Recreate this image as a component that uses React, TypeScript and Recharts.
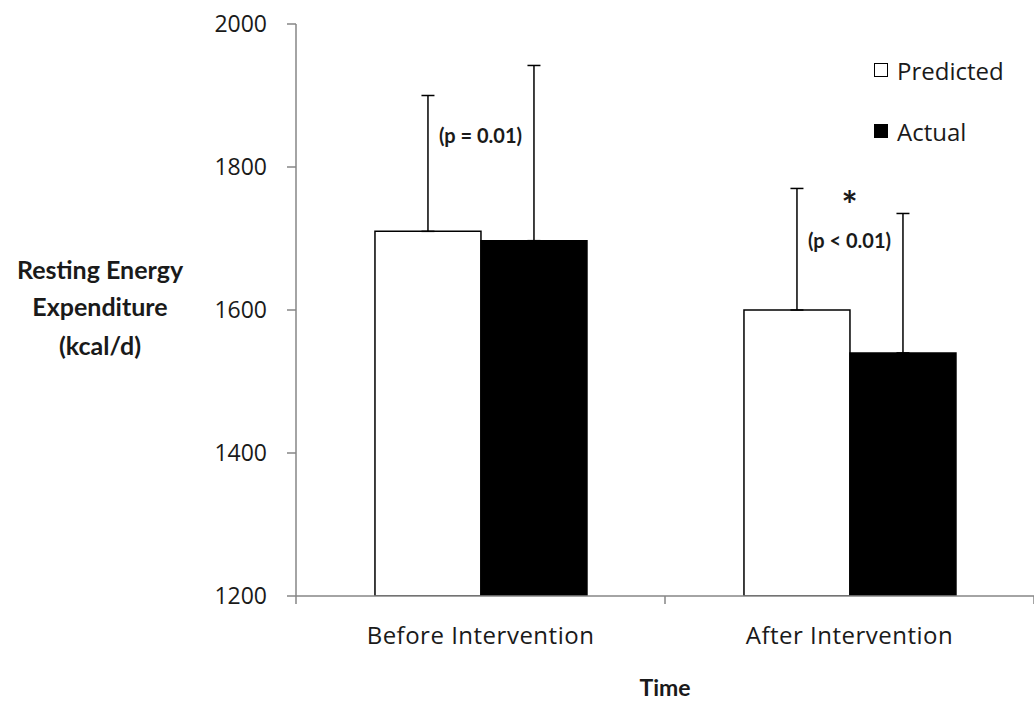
import { BarChart, Bar, XAxis, YAxis, ErrorBar, Label, ReferenceDot } from 'recharts'

const categories = ['Before Intervention', 'After Intervention']
const predicted = [1710, 1600]
const predictedErr = [190, 170]
const actual = [1697, 1540]
const actualErr = [245, 195]
const yTicks = [1200, 1400, 1600, 1800, 2000]

// significance notes drawn above each group
const notes = [
  { category: 'Before Intervention', y: 1841, text: '(p = 0.01)', size: 20 },
  { category: 'After Intervention', y: 1741, text: '*', size: 38 },
  { category: 'After Intervention', y: 1694, text: '(p < 0.01)', size: 20 },
]

const data = categories.map((name, i) => ({
  name,
  predicted: predicted[i],
  predictedErr: [0, predictedErr[i]],
  actual: actual[i],
  actualErr: [0, actualErr[i]],
}))

const FONT = '"Open Sans", Lato, sans-serif'
const BOLD_FONT = 'Lato, "Open Sans", sans-serif'
const AXIS_GRAY = '#868686'
const TEXT = '#1a1a1a'

function CategoryTick(props: any) {
  const { x, y, payload, index, visibleTicksCount } = props
  const half = payload?.offset ?? 0
  const marks = [x - half]
  if (index === visibleTicksCount - 1) marks.push(x + half)
  return (
    <g>
      {half > 0 &&
        marks.map((mx) => (
          <line key={mx} x1={mx} x2={mx} y1={y} y2={y + 8} stroke={AXIS_GRAY} strokeWidth={1.5} />
        ))}
      <text
        x={x}
        y={y + 42}
        textAnchor="middle"
        dominantBaseline="middle"
        fontSize={24}
        letterSpacing={0.5}
        fill={TEXT}
        fontFamily={FONT}
      >
        {payload.value}
      </text>
    </g>
  )
}

function YTitle(props: any) {
  const vb = props.viewBox || { x: 0, y: 0, width: 0, height: 0 }
  const cx = vb.x + 100
  const cy = 310
  return (
    <text x={cx} textAnchor="middle" fontSize={25} fontWeight="bold" fill={TEXT} fontFamily={BOLD_FONT}>
      <tspan x={cx} y={cy - 37} dominantBaseline="middle">Resting Energy</tspan>
      <tspan x={cx} y={cy} dominantBaseline="middle">Expenditure</tspan>
      <tspan x={cx} y={cy + 39} dominantBaseline="middle">(kcal/d)</tspan>
    </text>
  )
}

const legendItems = [
  { label: 'Predicted', fill: '#fff' },
  { label: 'Actual', fill: '#000' },
]

function LegendBox() {
  return (
    <div
      style={{
        position: 'absolute',
        left: 874,
        top: 54,
        fontFamily: FONT,
        fontSize: 24,
        color: TEXT,
      }}
    >
      {legendItems.map((it) => (
        <div key={it.label} style={{ display: 'flex', alignItems: 'center', height: 32, marginBottom: 29 }}>
          <span
            style={{
              width: 12,
              height: 12,
              background: it.fill,
              border: '1.5px solid #000',
              marginRight: 9,
              display: 'inline-block',
            }}
          />
          {it.label}
        </div>
      ))}
    </div>
  )
}

export default function App() {
  return (
    <div style={{ position: 'absolute', left: 0, top: 0, width: 1034, height: 707 }}>
      <BarChart
        width={1034}
        height={707}
        data={data}
        margin={{ top: 24, right: 0, bottom: 0, left: 0 }}
        barCategoryGap="21.4%"
        barGap={0}
      >
        <XAxis
          dataKey="name"
          height={111}
          stroke={AXIS_GRAY}
          strokeWidth={1.5}
          tickLine={false}
          tickSize={0}
          tickMargin={0}
          tick={<CategoryTick />}
          interval={0}
        >
          <Label
            content={({ viewBox }: any) => (
              <text
                x={viewBox.x + viewBox.width / 2}
                y={viewBox.y + 94}
                textAnchor="middle"
                dominantBaseline="middle"
                fontSize={23}
                fontWeight="bold"
                fill={TEXT}
                fontFamily={BOLD_FONT}
              >
                Time
              </text>
            )}
          />
        </XAxis>
        <YAxis
          width={296}
          domain={[1200, 2000]}
          ticks={yTicks}
          allowDataOverflow
          stroke={AXIS_GRAY}
          strokeWidth={1.5}
          tickSize={9}
          tickMargin={20}
          tick={{ fontSize: 23, fill: TEXT, fontFamily: FONT }}
        >
          <Label content={<YTitle />} />
        </YAxis>
        <Bar dataKey="predicted" fill="#fff" stroke="#000" strokeWidth={1.5} isAnimationActive={false}>
          <ErrorBar dataKey="predictedErr" direction="y" width={6.5} stroke="#000" strokeWidth={1.5} />
        </Bar>
        <Bar dataKey="actual" fill="#000" stroke="#000" strokeWidth={1.5} isAnimationActive={false}>
          <ErrorBar dataKey="actualErr" direction="y" width={6.5} stroke="#000" strokeWidth={1.5} />
        </Bar>
        {notes.map((n) => (
          <ReferenceDot
            key={n.text}
            x={n.category}
            y={n.y}
            r={0}
            fill="none"
            stroke="none"
            label={(p: any) => (
              <text
                x={p.viewBox.x + (p.viewBox.width || 0) / 2}
                y={p.viewBox.y + (p.viewBox.height || 0) / 2}
                textAnchor="middle"
                dominantBaseline="middle"
                fontSize={n.size}
                fontWeight="bold"
                fill={TEXT}
                fontFamily={BOLD_FONT}
              >
                {n.text}
              </text>
            )}
          />
        ))}
      </BarChart>
      <LegendBox />
    </div>
  )
}
